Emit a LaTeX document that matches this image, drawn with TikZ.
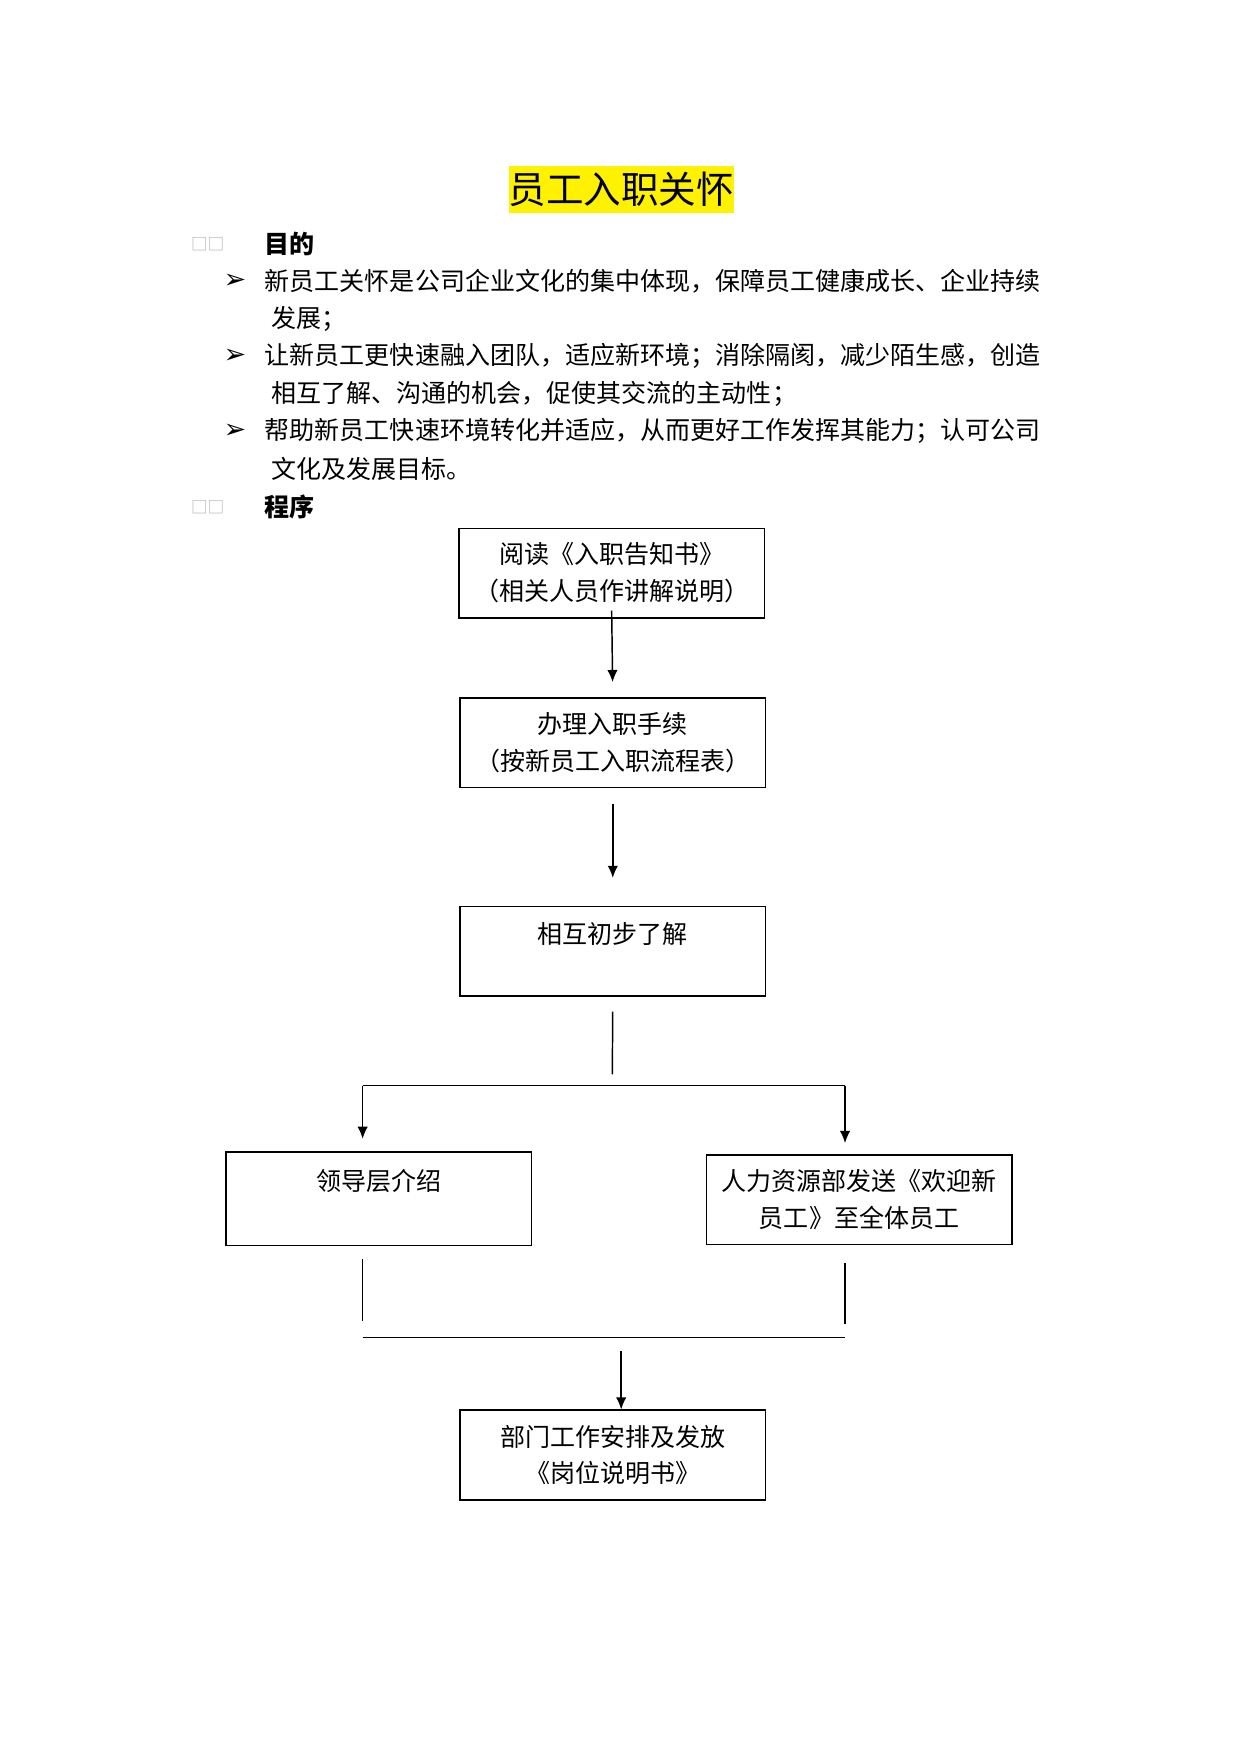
\documentclass[tikz,border=0pt]{standalone}
\usepackage{fontspec}
\newfontfamily\cjk{Noto Sans CJK SC}
\newfontfamily\dejavu{DejaVu Sans}
\usetikzlibrary{arrows.meta}

\begin{document}
\begin{tikzpicture}[x=0.5368pt,y=-0.5368pt,>={Latex[length=5.8pt,width=5pt]},line width=0.7pt,
  font=\cjk\fontsize{12}{17.7}\selectfont,
  bx/.style={draw,minimum width=146.5pt,minimum height=43pt,align=center,inner sep=0pt},
  ln/.style={anchor=west,inner sep=0pt},
  hd/.style={anchor=west,inner sep=0pt,font=\cjk\bfseries\fontsize{12}{14}\selectfont},
  sq/.style={anchor=west,inner sep=0pt,text=gray!60,font=\cjk\fontsize{8}{9}\selectfont},
  bul/.style={inner sep=0pt,font=\dejavu\bfseries\fontsize{13}{14}\selectfont}]
\useasboundingbox[fill=white] (0,0) rectangle (1109,1568);
% title
\node[fill=yellow,minimum width=107.4pt,minimum height=22.5pt,inner sep=0pt,
  font=\cjk\fontsize{18}{20}\selectfont] (title) at (555,169) {员工入职关怀};
% purpose
\node[sq] (s1) at (170,218) {□□}; \node[hd] (h1) at (236,218) {目的};
\foreach \y in {251,318,385} \node[bul] (m\y) at (210,\y) {➢};
\node[ln] (a1) at (236,251) {新员工关怀是公司企业文化的集中体现，保障员工健康成长、企业持续};
\node[ln] (a2) at (242,285) {发展；};
\node[ln] (c1) at (236,318) {让新员工更快速融入团队，适应新环境；消除隔阂，减少陌生感，创造};
\node[ln] (c2) at (242,352) {相互了解、沟通的机会，促使其交流的主动性；};
\node[ln] (d1) at (236,385) {帮助新员工快速环境转化并适应，从而更好工作发挥其能力；认可公司};
\node[ln] (d2) at (242,419) {文化及发展目标。};
% procedure
\node[sq] (s2) at (170,453) {□□}; \node[hd] (h2) at (236,453) {程序};
\node[bx] (r) at (546.5,512) {阅读《入职告知书》\\（相关人员作讲解说明）};
\node[bx] (h) at (547.5,663.5) {办理入职手续\\（按新员工入职流程表）};
\node[bx] (k) at (547.5,850) {相互初步了解\\\mbox{}};
\node[bx,minimum height=45pt] (l) at (338.5,1071) {领导层介绍\\\mbox{}};
\node[bx] (hr) at (767.5,1072) {人力资源部发送《欢迎新\\员工》至全体员工};
\node[bx] (d) at (547.5,1300) {部门工作安排及发放\\《岗位说明书》};
\coordinate (sp) at (547,970); \coordinate (spl) at (324,970); \coordinate (spr) at (755,970);
\coordinate (mgl) at (324,1195); \coordinate (mgr) at (755,1195); \coordinate (mg) at (555,1195);
\draw[->,shorten >=7.2pt] ([yshift=3.8pt]r.south) -- (h.north);
\draw[->,shorten <=7.5pt,shorten >=13.4pt] (h.south) -- (k.north);
\draw[shorten <=7pt,shorten >=5.4pt] (k.south) -- (sp);
\draw (spl) -- (spr);
\draw[->,shorten >=5.9pt] (spl) -- (spl |- l.north);
\draw[->,shorten >=5.4pt] (spr) -- (spr |- hr.north);
\draw[shorten <=5.9pt,shorten >=8pt] (mgl |- l.south) -- (mgl);
\draw[shorten <=8.6pt,shorten >=6.4pt] (mgr |- hr.south) -- (mgr);
\draw (mgl) -- (mgr);
\draw[->,shorten <=6.4pt] (mg) -- (mg |- d.north);
\end{tikzpicture}
\end{document}
